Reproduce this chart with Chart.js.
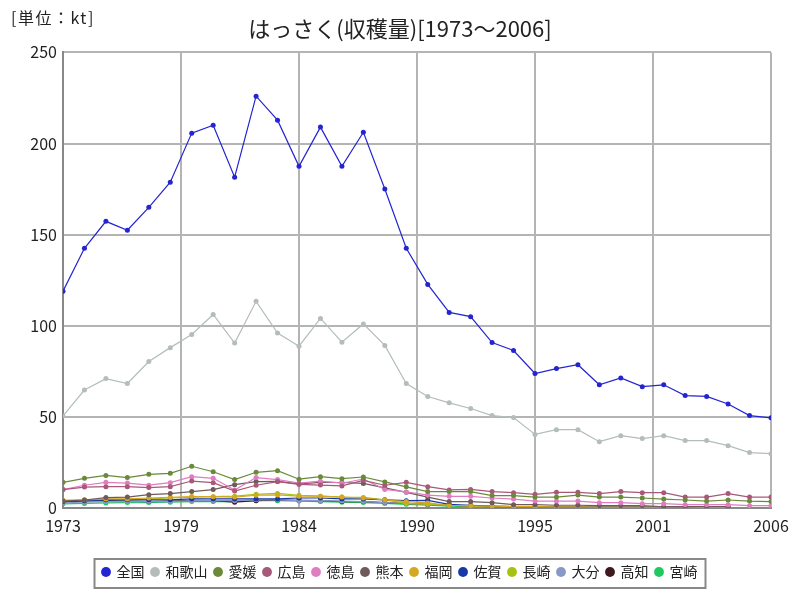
<!DOCTYPE html>
<html>
<head>
<meta charset="utf-8">
<script src="https://cdn.jsdelivr.net/npm/chart.js@4"></script>
<style>
  body { margin: 0; background: #fff; }
  #wrap { position: relative; width: 800px; height: 600px; }
  #unit { position: absolute; left: 11px; top: 5px; font: 16px "Noto Sans CJK JP", sans-serif; letter-spacing: 1.5px; color: #222; }
</style>
</head>
<body>
<div id="wrap">
  <canvas id="harvestChart" width="800" height="600"></canvas>
  <div id="unit">[単位：kt]</div>
</div>
<script>
const years = [];
for (let y = 1973; y <= 2006; y++) years.push(y);

// 収穫量 (kt)
const zenkoku = [119,142.5,157.3,152.4,165,178.8,205.7,210,181.5,226,212.8,187.5,209,187.5,206.2,175,142.5,122.7,107.3,105,90.8,86.4,73.8,76.5,78.6,67.6,71.4,66.6,67.6,61.7,61.2,57.1,50.7,49.5];
const wakayama = [50.5,64.7,71,68.3,80.4,88,95.2,106.2,90.5,113.4,96,88.8,104,91,101,89.2,68.3,61.2,57.7,54.6,50.7,49.6,40.4,43,43,36.4,39.7,38.1,39.7,37,37,34.2,30.4,29.8];
const ehime = [14.1,16.3,17.9,16.7,18.5,19,22.9,19.9,15.6,19.6,20.5,15.8,17.2,16.1,17,14.3,11.6,9,9,9,6.8,6.8,6,6,7.1,6,6,5.5,4.9,4.4,3.8,4.4,3.8,3.5];
const hiroshima = [10.1,11.5,11.7,11.7,11.2,11.7,14.8,13.9,9.3,12.5,14.5,13,12.6,12.1,15.2,12.5,14.1,11.7,9.9,10.2,9,8.4,7.5,8.6,8.6,7.9,9,8.4,8.4,6,6,7.9,6,6];
const tokushima = [10.1,12.5,14.1,13.7,12.5,13.9,17.2,16.3,9.9,16.7,15.6,13.7,14.7,13.6,15.9,10.2,8.8,7.1,6.4,6.4,5.5,4.9,3.8,3.8,3.8,2.9,2.9,2.4,2.4,1.8,1.8,1.8,1.3,1.3];
const kumamoto = [3.8,4.4,5.7,6,7.3,7.9,9,10.1,12.8,14.5,14.6,13.2,14.1,14,13.5,11,8.6,6,3.5,3.5,2.9,1.8,1.8,1.5,1.5,1.3,1.3,1.3,0.7,0.7,0.7,0.7,null,null];
const fukuoka = [4.2,4.5,5,5,5.5,5.8,6.3,6.2,6,7,7.2,6.5,6.5,6,5.5,4.5,3.5,2.8,1.5,1.2,1,0.8,0.7,0.6,0.6,0.5,0.5,0.5,0.4,0.4,0.3,0.3,null,null];
const saga = [3.5,4,4.5,4.5,4.5,4.5,5,5,5,5,5,5.5,5.5,5,5,4.5,4,4.2,2,1.5,1,0.8,0.7,0.6,0.6,0.5,0.5,0.5,0.4,0.4,0.3,0.3,null,null];
const nagasaki = [4,4.3,4.8,4.8,5,5.5,6,6.2,6.5,7.5,8,7,6.5,6,5.8,4.5,2.5,2,1.5,1,0.8,0.7,0.6,0.5,0.5,0.4,0.4,0.4,0.3,0.3,0.3,0.3,null,null];
const oita = [3,3.2,3.5,3.5,3.5,3.5,4,4,4,4.5,4.5,4,4,3.8,3.5,3,2.5,2,1.5,1.2,1,0.8,0.7,0.6,0.6,0.5,0.5,0.5,0.4,0.4,0.3,0.3,null,null];
const kochi = [3.5,3.8,4,3.8,3.5,3.8,4.2,4,3.2,4,4.5,4.2,4,3.5,3.5,3,2.5,2,1.5,1,0.8,0.7,0.6,0.5,0.5,0.4,0.4,0.4,0.3,0.3,0.3,0.3,null,null];
const miyazaki = [2.3,2.5,2.8,3,3,3.2,3.5,3.5,3.5,4,4,3.8,3.5,3.2,3,2.5,2,1.5,1,0.8,0.6,0.5,0.5,0.4,0.4,0.3,0.3,0.3,0.3,0.2,0.2,0.2,null,null];

const seriesNames = ['全国','和歌山','愛媛','広島','徳島','熊本','福岡','佐賀','長崎','大分','高知','宮崎'];
const seriesData = [zenkoku, wakayama, ehime, hiroshima, tokushima, kumamoto, fukuoka, saga, nagasaki, oita, kochi, miyazaki];
const seriesColors = ['#2424d0','#b4bcbc','#6a8a3a','#a85878','#e07cc0','#705a5a','#d4a820','#1838a8','#a8c010','#8898c8','#401820','#20c860'];

const datasets = seriesNames.map((name, i) => ({
    label: name,
    data: years.map((yr, j) => ({ x: yr, y: seriesData[i][j] })),
    borderColor: seriesColors[i],
    backgroundColor: seriesColors[i],
    borderWidth: 1.2,
    pointRadius: 2.5,
    pointHoverRadius: 2.5,
    pointBorderWidth: 0,
    order: i
}));

// center title and legend on the whole canvas, box round the legend items
const legendBox = {
    id: 'legendBox',
    afterLayout(chart) {
        [chart.legend, chart.titleBlock].forEach(b => {
            if (!b) return;
            b.left = 0;
            b.right = chart.width;
            b.width = chart.width;
        });
    },
    afterDraw(chart) {
        const lg = chart.legend;
        const boxes = lg.legendHitBoxes;
        if (!boxes || !boxes.length) return;
        let left = Infinity, right = -Infinity;
        boxes.forEach(b => {
            left = Math.min(left, b.left);
            right = Math.max(right, b.left + b.width);
        });
        const ctx = chart.ctx;
        ctx.save();
        ctx.strokeStyle = '#888';
        ctx.lineWidth = 2;
        ctx.strokeRect(left - 8, lg.top + 1, right - left + 16, lg.height - 2);
        ctx.restore();
    }
};

const font = '"Noto Sans CJK JP", sans-serif';

new Chart(document.getElementById('harvestChart'), {
    type: 'line',
    data: { datasets: datasets },
    plugins: [legendBox],
    options: {
        responsive: false,
        animation: false,
        layout: { padding: { left: 0, right: 29, top: 6, bottom: 11 } },
        plugins: {
            title: {
                display: true,
                text: 'はっさく(収穫量)[1973～2006]',
                color: '#222',
                font: { family: font, size: 22, weight: 'normal' },
                padding: { top: 9, bottom: 11 }
            },
            legend: {
                position: 'bottom',
                labels: {
                    usePointStyle: true,
                    pointStyle: 'circle',
                    boxWidth: 7,
                    boxHeight: 7,
                    padding: 7,
                    color: '#222',
                    font: { family: font, size: 14 }
                }
            },
            tooltip: { enabled: false }
        },
        scales: {
            x: {
                type: 'linear',
                min: 1973,
                max: 2006,
                ticks: {
                    stepSize: 5.5,
                    color: '#222',
                    padding: 8,
                    font: { family: font, size: 16 },
                    maxRotation: 0,
                    callback: v => Math.round(v)
                },
                grid: { color: '#b4b4b4', lineWidth: 2, drawTicks: false },
                border: { color: '#888', width: 2 },
                afterFit: s => { s.height = 50; }
            },
            y: {
                min: 0,
                max: 250,
                ticks: {
                    stepSize: 50,
                    color: '#222',
                    padding: 6,
                    font: { family: font, size: 16 }
                },
                grid: { color: '#b4b4b4', lineWidth: 2, drawTicks: false },
                border: { color: '#888', width: 2 },
                afterFit: s => { s.width = 63; }
            }
        }
    }
});
</script>
</body>
</html>
